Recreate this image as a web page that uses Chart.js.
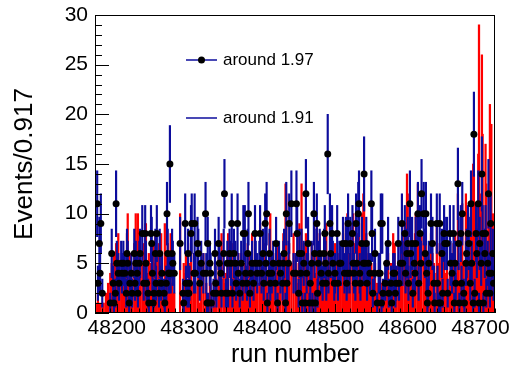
<!DOCTYPE html>
<html>
<head>
<meta charset="utf-8">
<script src="https://cdn.jsdelivr.net/npm/chart.js@4"></script>
<style>
  html, body { margin: 0; padding: 0; background: #fff; }
  #plot { display: block; }
</style>
</head>
<body>
<canvas id="plot" width="510" height="374"></canvas>
<script>
// run numbers of filled bins (bin width 0.917)
const runs = [
  48173,48174,48176,48177,48178,48180,48182,48185,48188,48191,48193,48195,48196,48198,48199,48200,48202,48203,48206,48207,48209,48211,48213,48214,48215,48217,48218,48220,48221,48224,48225,48226,48228,48229,48231,48232,48235,48237,
  48239,48240,48241,48243,48244,48247,48248,48249,48250,48251,48253,48254,48255,48258,48259,48261,48262,48265,48266,48268,48269,48270,48271,48272,48273,48274,48276,48277,48279,48287,48291,48292,48294,48295,48297,48298,48299,48300,48302,48303,48306,
  48307,48308,48311,48312,48314,48316,48319,48322,48323,48324,48325,48326,48328,48329,48330,48333,48335,48336,48337,48340,48341,48343,48344,48347,48348,48350,48352,48353,48355,48357,48358,48359,48361,48363,48364,48366,48367,48369,48371,48373,48374,
  48376,48377,48379,48380,48381,48383,48384,48386,48388,48390,48391,48393,48396,48397,48399,48401,48402,48404,48405,48406,48407,48409,48410,48411,48413,48415,48418,48419,48421,48423,48425,48428,48429,48430,48432,48433,48434,48436,48437,48440,48443,
  48446,48447,48448,48450,48451,48453,48454,48455,48457,48459,48460,48461,48463,48465,48466,48468,48469,48471,48472,48473,48475,48476,48477,48479,48481,48483,48485,48486,48487,48488,48490,48491,48493,48494,48496,48497,48499,48500,48503,48504,48506,48508,48511,48513,
  48515,48516,48517,48518,48520,48521,48524,48525,48526,48528,48529,48530,48532,48533,48534,48535,48537,48539,48540,48541,48543,48544,48546,48548,48550,48551,48552,48554,48555,48558,48560,48562,48563,48564,48565,48566,48569,48571,48573,48574,48577,48578,48580,
  48582,48583,48584,48587,48588,48590,48592,48593,48596,48597,48599,48600,48601,48603,48604,48606,48607,48609,48610,48611,48614,48615,48617,48618,48619,48622,48624,48625,48626,48627,48628,48629,48632,48634,48636,48637,48640,48641,48643,48644,48645,48647,48648,48650,
  48651,48654,48655,48658,48659,48661,48663,48664,48665,48666,48669,48670,48671,48673,48674,48675,48677,48678,48680,48681,48683,48684,48686,48687,48688,48690,48691,48692,48694,48695,48697,48698,48699,48701,48702,48703,48704,48706,48707,48708,48710,48711,48712,48713,48714,48715,48717,48718
];

// "around 1.97": black points with error bars
const counts197 = [
  11,3,7,4,9,2,0,0,0,1,6,3,1,2,11,5,4,3,5,4,5,4,2,6,5,1,3,4,2,6,3,5,4,2,5,6,8,3,
  8,5,3,2,1,8,7,4,1,2,6,3,8,2,6,3,4,2,1,3,10,6,4,4,15,4,6,5,4,7,2,1,9,3,2,6,2,3,8,9,4,
  9,4,7,6,3,5,4,10,4,1,7,1,5,4,1,2,6,3,2,7,5,4,2,6,12,2,5,2,6,5,9,2,6,5,3,9,4,2,5,3,8,
  8,4,3,6,10,2,4,5,3,8,5,4,5,8,4,6,3,9,5,10,1,4,6,3,4,5,3,7,1,5,4,3,5,6,1,10,3,5,9,11,4,
  4,11,8,2,6,4,6,1,5,1,12,4,7,1,3,5,1,10,6,1,9,2,5,6,4,3,6,8,5,3,16,4,9,6,8,5,3,4,8,3,5,5,7,4,
  7,3,4,9,4,7,8,5,4,3,9,5,10,11,4,3,7,5,14,5,7,3,5,4,11,8,2,4,6,1,4,4,9,1,9,2,3,5,7,2,3,1,4,
  4,2,3,7,3,5,9,5,8,4,6,7,3,11,6,7,2,5,4,7,10,3,8,5,12,10,6,10,4,1,2,5,9,7,3,1,9,3,1,9,1,6,2,8,
  7,7,2,8,5,4,8,1,5,3,13,7,1,8,3,10,2,1,5,6,8,7,3,11,5,1,18,2,8,6,11,1,7,5,14,8,1,6,8,2,5,12,4,2,9,4,6,3
];

// "around 1.91": red filled histogram
const counts191 = [
  1,2,0,1,0,1,1,2,3,4,5,2,6,3,7,3,8,2,4,6,3,5,4,8,10,3,6,5,2,7,4,10,6,10,3,8,5,7,
  9,9,2,4,6,5,3,6,7,5,8,2,6,7,4,8,5,3,9,6,4,7,2,5,6,8,3,2,2,10,3,5,4,6,3,2,4,5,7,3,6,
  5,2,3,5,1,4,6,2,3,1,1,0,4,3,2,1,5,3,3,6,4,2,8,5,3,4,6,8,2,4,7,3,4,5,2,3,6,3,6,2,4,
  5,3,4,7,3,6,2,8,4,4,6,3,3,9,5,5,2,7,4,4,2,5,8,10,3,6,5,4,7,3,6,4,8,6,13,12,5,4,7,5,8,
  6,4,3,5,9,3,13,5,7,4,8,3,6,2,4,7,5,6,3,4,9,3,5,8,6,4,5,7,4,9,5,3,6,2,4,3,5,7,5,2,6,3,8,4,
  9,4,10,8,5,6,9,10,7,4,5,8,2,9,3,7,10,12,11,6,8,4,6,3,5,4,3,2,5,3,2,4,3,1,2,3,4,3,6,3,5,4,8,
  7,3,2,5,4,3,6,8,9,3,14,12,6,4,7,5,3,4,8,10,13,9,6,4,8,7,5,9,6,2,3,4,8,6,5,4,9,4,5,7,3,5,2,6,
  4,5,2,4,6,3,7,2,8,4,12,5,3,6,4,11,5,3,12,8,9,6,4,10,7,15,14,6,11,9,16,29,10,12,26,18,5,8,17,13,7,9,6,21,15,19,10,3
];

const xTicks = [48200, 48300, 48400, 48500, 48600, 48700];
const yTicks = [0, 5, 10, 15, 20, 25, 30];
const legendLabels = ['around 1.97', 'around 1.91'];

const BLUE = '#0c0c9c';
const FONT = '"Liberation Sans", Arial, sans-serif';

const histData = runs.map((r, i) => ({ x: r, y: counts191[i] }));
const errData = [];
const pointData = [];
runs.forEach((r, i) => {
  const n = counts197[i];
  if (n > 0) {
    const e = Math.sqrt(n);
    errData.push({ x: r, y: [n - e, n + e] });
    pointData.push({ x: r, y: n });
  }
});

// ROOT-like frame, inner tick marks and legend box
const rootFrame = {
  id: 'rootFrame',
  afterDatasetsDraw(chart) {
    const { ctx, chartArea: a, scales: { x, y } } = chart;
    ctx.save();
    ctx.strokeStyle = '#000';
    ctx.lineWidth = 1;
    ctx.beginPath();
    for (let v = y.min; v <= y.max; v++) {
      const py = Math.round(y.getPixelForValue(v)) + 0.5;
      const len = v % 5 === 0 ? 14 : 7;
      ctx.moveTo(a.left, py);
      ctx.lineTo(a.left + len, py);
    }
    for (let v = x.min; v <= x.max; v += 10) {
      const px = Math.round(x.getPixelForValue(v)) + 0.5;
      const len = v % 100 === 0 ? 9 : (v % 50 === 0 ? 6 : 4.5);
      ctx.moveTo(px, a.bottom);
      ctx.lineTo(px, a.bottom - len);
    }
    ctx.stroke();
    ctx.strokeRect(a.left + 0.5, a.top + 0.5, a.width - 1, a.height - 1);

    // legend
    const lx = 186, lw = 31, tx = 223;
    const rows = [60, 118];
    ctx.strokeStyle = BLUE;
    ctx.lineWidth = 1.5;
    rows.forEach(ry => {
      ctx.beginPath();
      ctx.moveTo(lx, ry);
      ctx.lineTo(lx + lw, ry);
      ctx.stroke();
    });
    ctx.fillStyle = '#000';
    ctx.beginPath();
    ctx.arc(lx + lw / 2, rows[0], 3.5, 0, Math.PI * 2);
    ctx.fill();
    ctx.font = '17px ' + FONT;
    ctx.textBaseline = 'middle';
    ctx.textAlign = 'left';
    legendLabels.forEach((t, i) => ctx.fillText(t, tx, rows[i]));
    ctx.restore();
  }
};

new Chart(document.getElementById('plot'), {
  type: 'bar',
  data: {
    datasets: [
      {
        type: 'bar',
        label: legendLabels[1],
        data: histData,
        backgroundColor: '#ff0000',
        borderWidth: 0,
        barThickness: 1.6,
        grouped: false,
        order: 3
      },
      {
        type: 'bar',
        label: legendLabels[0] + ' errors',
        data: errData,
        backgroundColor: BLUE,
        borderWidth: 0,
        barThickness: 1.5,
        grouped: false,
        order: 2
      },
      {
        type: 'scatter',
        label: legendLabels[0],
        data: pointData,
        backgroundColor: '#000',
        borderWidth: 0,
        pointRadius: 3.5,
        showLine: false,
        order: 1
      }
    ]
  },
  options: {
    responsive: false,
    animation: false,
    layout: { padding: { top: 15, right: 15, left: 0, bottom: 0 } },
    plugins: {
      legend: { display: false },
      tooltip: { enabled: false }
    },
    scales: {
      x: {
        type: 'linear',
        min: 48170,
        max: 48720,
        offset: false,
        grid: { display: false, drawTicks: false },
        border: { display: false },
        ticks: {
          color: '#000',
          font: { family: FONT, size: 21 },
          padding: 3,
          maxRotation: 0,
          autoSkip: false,
          callback: v => String(v)
        },
        afterBuildTicks: s => { s.ticks = xTicks.map(v => ({ value: v })); },
        afterFit: s => { s.height = 61; s.paddingLeft = 0; s.paddingRight = 0; },
        title: {
          display: true,
          text: 'run number',
          color: '#000',
          font: { family: FONT, size: 25 },
          padding: { top: 0, bottom: 4 }
        }
      },
      y: {
        type: 'linear',
        min: 0,
        max: 30,
        grid: { display: false, drawTicks: false },
        border: { display: false },
        ticks: {
          color: '#000',
          font: { family: FONT, size: 21 },
          padding: 7
        },
        afterBuildTicks: s => { s.ticks = yTicks.map(v => ({ value: v })); },
        afterFit: s => { s.width = 95; s.paddingTop = 0; s.paddingBottom = 0; },
        title: {
          display: true,
          text: 'Events/0.917',
          color: '#000',
          font: { family: FONT, size: 26 },
          padding: { top: 9, bottom: 0 }
        }
      }
    }
  },
  plugins: [rootFrame]
});
</script>
</body>
</html>
